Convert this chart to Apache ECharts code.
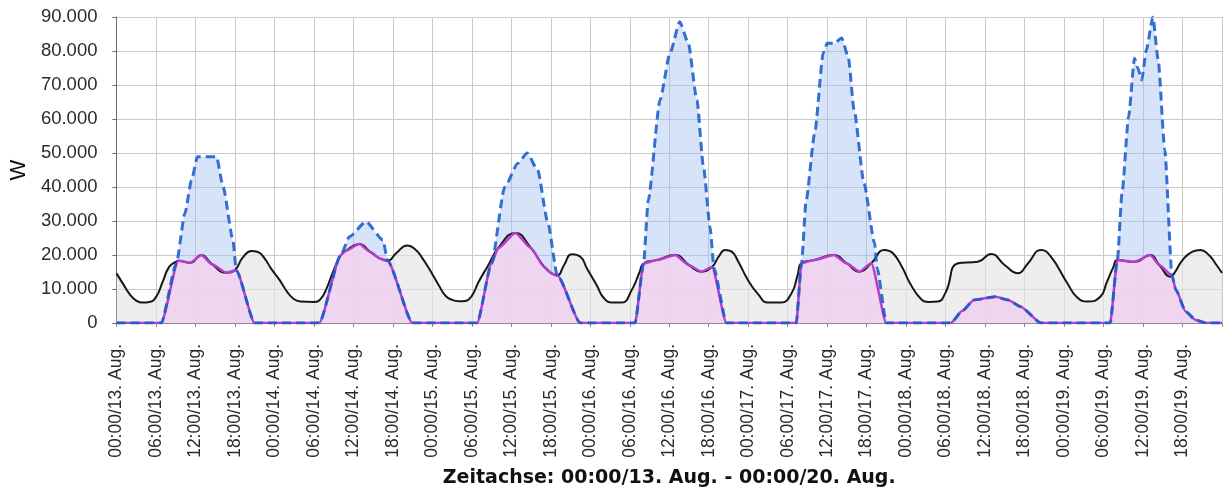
<!DOCTYPE html>
<html>
<head>
<meta charset="utf-8">
<script src="https://cdn.jsdelivr.net/npm/echarts@6/dist/echarts.min.js"></script>
<style>
  html, body { margin: 0; padding: 0; background: #ffffff; }
  #chart { width: 1224px; height: 494px; }
</style>
</head>
<body>
<div id="chart"></div>
<script>
// Hours since 00:00 on 13 Aug, power in W.

// Consumption (black line, grey fill)
const consumption = [
  [0,14600],[1,11500],[2,8500],[3,6600],[4,6000],[5,6200],[6,7600],[7,12000],[8,16500],[9,18000],
  [9.4,18300],[11.2,17700],[12.9,20000],[14.5,17300],[16.7,14800],[18,15600],[19.2,19300],[20.5,21200],
  [21.5,20900],[22.5,19000],[23.5,16000],
  [24.8,12600],[26,9000],[27,7000],[28,6300],[30,6200],[31,7000],[32,10500],[33,15500],[34.1,20000],
  [34.8,21200],[36.9,23200],[38.5,21000],[40,19000],[41.2,18300],[42.5,20500],[44.2,22800],[45.5,21500],
  [46.5,19000],[47.5,16000],
  [49,11000],[50,8000],[51,6800],[52,6400],[53,6500],[54,8000],[55,12000],[56.5,17000],[58,22000],
  [60.6,26500],[63,22000],[65,16500],[66.2,14500],[67,14000],[68,17000],[69.2,20200],[70.5,19500],[71.5,16000],
  [73,11000],[74,7500],[75.3,6000],[76.8,6000],[78.3,9700],[79.5,15000],[80.1,17500],[82.1,18500],
  [84.9,20000],[87,17000],[88.9,15100],[90.5,16500],[91.5,19500],[92.5,21500],[93.5,21000],[94.5,18000],[96,12500],
  [97.5,8500],[99,6000],[101,6000],[102.6,8800],[103.5,14000],[104.1,17600],[106,18500],[109,20000],
  [111,17500],[112.9,15100],[114.7,17600],[116.7,21500],[118,20500],[119.5,16000],[120.5,12000],
  [122.3,7000],[123.5,6200],[124.8,6300],[126,9000],[127.9,17600],[130.9,18000],[132.9,20300],[135,17000],
  [137,14600],[138.5,17500],[140.5,21500],[142,19500],[144.5,11700],[146,7500],[147.6,6300],[149.5,7700],
  [150.5,12000],[151.5,16500],
  [152.1,18500],[154.7,18000],[157.1,20000],[158.5,17000],[160.2,13600],[160.8,14800],[162,18500],
  [163.5,21000],[164.7,21500],[166,20000],[167,17500],[168,14700]
];

// Self-consumed PV (magenta line, pink fill)
const selfUse = [
  [0,0],[6.8,0],[9.4,18300],[11.2,17700],[12.9,20000],[14.5,17300],[16.7,14800],[18.2,15500],[21,0],
  [30.8,0],[34.1,20000],[34.8,21200],[36.9,23200],[38.5,21000],[40,19000],[41.2,18300],[45,0],
  [54.8,0],[57,17500],[58,22000],[60.6,26500],[63,22000],[65,16500],[66.2,14500],[67,14000],[70.5,0],
  [78.8,0],[80.1,17500],[82.1,18500],[84.9,20000],[87,17000],[88.9,15100],[90.5,16500],[92.7,0],
  [103.3,0],[104.1,17600],[106,18500],[109,20000],[111,17500],[112.9,15100],[114.7,17600],[117,0],
  [126.8,0],[128.5,3500],[130.3,6800],[133.6,7700],[135.5,6800],[137.4,4800],[140.5,0],
  [151,0],[152.1,18500],[154.7,18000],[157.1,20000],[158.5,17000],[160.4,14000],[161,9700],
  [162.5,3300],[164,900],[165.5,0],[168,0]
];

// PV production (blue dashed line, blue fill)
const production = [
  [0,0],[6.8,0],[9.1,17500],[10.4,32300],[11.4,42000],[12.3,48900],[15.2,48900],[16.2,40100],
  [17.7,24400],[18.2,15500],[21,0],
  [30.8,0],[34.1,20000],[35.4,25400],[37.9,29800],[40.5,24400],[41.2,18300],[45,0],
  [54.8,0],[57,17500],[59,40000],[61,47000],[62.4,50000],[64,45000],[65.5,30000],[67,14000],[70.5,0],
  [78.8,0],[80.1,17500],[80.8,36000],[82.6,65600],[84.1,79300],[85.6,88600],[86.9,82300],[88.2,65600],
  [89.2,46000],[90.2,28300],[90.8,16000],[92.7,0],
  [103.3,0],[104.1,17600],[104.8,36000],[106.1,55800],[107.4,79400],[108,82300],[109.1,82300],
  [110.2,83800],[111.2,78300],[112.1,62600],[113.6,41100],[115.2,23500],[115.6,16000],[117,0],
  [126.8,0],[128.5,3500],[130.3,6800],[133.6,7700],[135.5,6800],[137.4,4800],[140.5,0],
  [151,0],[152.1,18500],[152.8,38000],[153.8,60600],[154.7,77900],[155.2,75000],[155.8,71500],
  [156.5,80300],[157.5,90000],[158.3,77400],[159.3,51000],[160.4,14000],[161,9700],
  [162.5,3300],[164,900],[165.5,0],[168,0]
];

// Time axis labels, one every 6 hours
const timeLabels = [
  '00:00/13. Aug.','06:00/13. Aug.','12:00/13. Aug.','18:00/13. Aug.',
  '00:00/14. Aug.','06:00/14. Aug.','12:00/14. Aug.','18:00/14. Aug.',
  '00:00/15. Aug.','06:00/15. Aug.','12:00/15. Aug.','18:00/15. Aug.',
  '00:00/16. Aug.','06:00/16. Aug.','12:00/16. Aug.','18:00/16. Aug.',
  '00:00/17. Aug.','06:00/17. Aug.','12:00/17. Aug.','18:00/17. Aug.',
  '00:00/18. Aug.','06:00/18. Aug.','12:00/18. Aug.','18:00/18. Aug.',
  '00:00/19. Aug.','06:00/19. Aug.','12:00/19. Aug.','18:00/19. Aug.'
];

const xTitle = 'Zeitachse: 00:00/13. Aug. - 00:00/20. Aug.';
const yTitle = 'W';

const chart = echarts.init(document.getElementById('chart'), null, { renderer: 'canvas' });

function thousands(v) {
  return String(v).replace(/\B(?=(\d{3})+(?!\d))/g, '.');
}

chart.setOption({
  animation: false,
  backgroundColor: '#ffffff',
  grid: { left: 113, right: 2, top: 17, bottom: 171, containLabel: false },
  xAxis: {
    type: 'value',
    min: 0,
    max: 168,
    interval: 6,
    offset: 14,
    name: xTitle,
    nameLocation: 'middle',
    nameGap: 132,
    nameTextStyle: { fontFamily: 'DejaVu Sans', fontWeight: 'bold', fontSize: 19, color: '#111' },
    axisLine: { show: true, lineStyle: { color: '#8a8a8a', width: 1 } },
    axisTick: { show: true, length: 4, lineStyle: { color: '#8a8a8a' } },
    axisLabel: {
      rotate: 90,
      margin: 7,
      fontFamily: 'Liberation Sans',
      fontSize: 17.5,
      color: '#2a2a2a',
      formatter: function (v) {
        const i = Math.round(v / 6);
        return timeLabels[i] || '';
      }
    },
    splitLine: { show: true, lineStyle: { color: '#c9c9c9', width: 1 } }
  },
  yAxis: {
    type: 'value',
    min: 0,
    max: 90000,
    interval: 10000,
    offset: 6,
    name: yTitle,
    nameLocation: 'middle',
    nameGap: 80,
    nameTextStyle: { fontFamily: 'Liberation Sans', fontSize: 22, color: '#111' },
    axisLine: { show: true, lineStyle: { color: '#6a6a6a', width: 1 } },
    axisTick: { show: true, length: 4, lineStyle: { color: '#6a6a6a' } },
    axisLabel: {
      margin: 13,
      fontFamily: 'Liberation Sans',
      fontSize: 18.5,
      color: '#2a2a2a',
      formatter: thousands
    },
    splitLine: { show: true, lineStyle: { color: '#c9c9c9', width: 1 } }
  },
  series: [
    {
      name: 'production-area',
      type: 'line',
      data: production,
      smooth: 0.2,
      smoothMonotone: 'x',
      symbol: 'none',
      lineStyle: { width: 0 },
      areaStyle: { color: 'rgba(160,188,238,0.6)' },
      silent: true,
      z: 1
    },
    {
      name: 'consumption-area',
      type: 'line',
      data: consumption,
      smooth: 0.5,
      symbol: 'none',
      lineStyle: { width: 0 },
      areaStyle: { color: 'rgba(228,228,228,0.9)' },
      silent: true,
      z: 2
    },
    {
      name: 'selfuse-area',
      type: 'line',
      data: selfUse,
      smooth: 0.2,
      smoothMonotone: 'x',
      symbol: 'none',
      lineStyle: { width: 0 },
      areaStyle: { color: 'rgba(246,206,243,1)' },
      silent: true,
      z: 3
    },
    {
      name: 'consumption',
      type: 'line',
      data: consumption,
      smooth: 0.5,
      symbol: 'none',
      lineStyle: { color: '#161616', width: 2 },
      z: 4
    },
    {
      name: 'selfuse',
      type: 'line',
      data: selfUse,
      smooth: 0.2,
      smoothMonotone: 'x',
      symbol: 'none',
      lineStyle: { color: '#b83ccc', width: 2.5 },
      z: 5
    },
    {
      name: 'production',
      type: 'line',
      data: production,
      smooth: 0.2,
      smoothMonotone: 'x',
      symbol: 'none',
      lineStyle: { color: 'rgba(25,92,205,0.88)', width: 3, type: [9, 5] },
      z: 6
    }
  ]
});
</script>
</body>
</html>
